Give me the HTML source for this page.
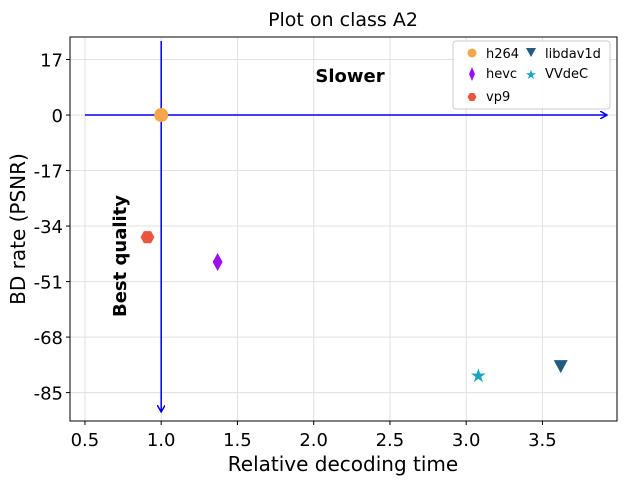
<!DOCTYPE html>
<html><head><meta charset="utf-8"><style>
body{margin:0;background:#fff;font-family:"DejaVu Sans","Liberation Sans",sans-serif}
</style></head><body>
<svg id="chart" width="626" height="484" xmlns="http://www.w3.org/2000/svg" font-family="DejaVu Sans, Liberation Sans, sans-serif">
<defs>
<marker id="ah" markerWidth="8" markerHeight="8" refX="7" refY="4" orient="auto" markerUnits="userSpaceOnUse"><path d="M0,0 L7,4 L0,8" fill="none" stroke="#0000ee" stroke-width="1.5"/></marker>
</defs>
<g id="grid"></g>
<g id="marks"></g>
<rect x="70" y="37" width="547" height="384" fill="none" stroke="#000" stroke-width="1"/>
<g id="ticks"></g>
<text x="343" y="26" font-size="19" text-anchor="middle">Plot on class A2</text>
<text x="343" y="471" font-size="20" text-anchor="middle">Relative decoding time</text>
<text transform="translate(25,229) rotate(-90)" font-size="20" text-anchor="middle">BD rate (PSNR)</text>
<text x="350" y="82" font-size="18" font-weight="bold" text-anchor="middle">Slower</text>
<text transform="translate(126,256) rotate(-90)" font-size="18" font-weight="bold" text-anchor="middle">Best quality</text>
<g>
<rect x="453" y="41" width="157" height="68" rx="3" fill="#fff" fill-opacity="0.85" stroke="#ccc"/>
<circle cx="472" cy="53" r="4.5" fill="#f4a74a"/><text x="486" y="58" font-size="13">h264</text>
<path d="M472,67 L475,74 L472,81 L469,74Z" fill="#9b10ee"/><text x="486" y="78" font-size="13">hevc</text>
<path d="M476.5,97 L474.2,101 L469.8,101 L467.5,97 L469.8,93 L474.2,93Z" fill="#e8563f"/><text x="486" y="101" font-size="13">vp9</text>
<path d="M526,48 L536,48 L531,57Z" fill="#235a80"/><text x="545" y="58" font-size="13">libdav1d</text>
<text x="531" y="79" font-size="13" fill="#17a8c0" text-anchor="middle">★</text><text x="545" y="78" font-size="13">VVdeC</text>
</g>
</svg>
<script>
const categories=["h264","hevc","vp9","libdav1d","VVdeC"];
const timeValues=[1.0,1.37,0.91,3.62,3.08];
const bdValues=[0,-45,-37.4,-76.9,-79.6];
const xTicks=[0.5,1.0,1.5,2.0,2.5,3.0,3.5];
const yTicks=[17,0,-17,-34,-51,-68,-85];
const colors=["#f4a74a","#9b10ee","#e8563f","#235a80","#17a8c0"];
const X0=70,X1=617,Y0=37,Y1=421,xmin=0.402,xmax=3.989,ymin=-93.7,ymax=23.9;
const sx=v=>X0+(v-xmin)/(xmax-xmin)*(X1-X0);
const sy=v=>Y1-(v-ymin)/(ymax-ymin)*(Y1-Y0);
const NS="http://www.w3.org/2000/svg";
function mk(t,a,p){const e=document.createElementNS(NS,t);for(const k in a)e.setAttribute(k,a[k]);p.appendChild(e);return e;}
const grid=document.getElementById('grid'),ticks=document.getElementById('ticks'),marks=document.getElementById('marks');
xTicks.forEach(v=>{const x=sx(v);
const g=mk('line',{x1:x,x2:x,y1:Y0,y2:Y1,stroke:'#e0e0e0','stroke-width':1},grid);

mk('line',{x1:x,x2:x,y1:Y1,y2:Y1+4,stroke:'#000'},ticks);
const t=mk('text',{x:x,y:Y1+25,'font-size':18,'text-anchor':'middle'},ticks);t.textContent=v.toFixed(1);
});
yTicks.forEach(v=>{const y=sy(v);
const g=mk('line',{x1:X0,x2:X1,y1:y,y2:y,stroke:'#e0e0e0','stroke-width':1},grid);

mk('line',{x1:X0-4,x2:X0,y1:y,y2:y,stroke:'#000'},ticks);
const t=mk('text',{x:X0-7,y:y+7,'font-size':18,'text-anchor':'end'},ticks);t.textContent=v;
});
const ha=mk('line',{x1:sx(0.5),x2:607,y1:sy(0),y2:sy(0),stroke:'#0000ee','stroke-width':1.5,'marker-end':'url(#ah)'},marks);

const va=mk('line',{x1:sx(1),x2:sx(1),y1:41,y2:412,stroke:'#0000ee','stroke-width':1.5,'marker-end':'url(#ah)'},marks);

categories.forEach((c,i)=>{const x=sx(timeValues[i]),y=sy(bdValues[i]);let e;
if(i===0){e=mk('circle',{cx:x,cy:y,r:7,fill:colors[i]},marks);}
else if(i===2){let d='';for(let k=0;k<6;k++){const a=Math.PI/3*k;d+=(k?'L':'M')+(x+7*Math.cos(a))+','+(y+7*Math.sin(a));}e=mk('path',{d:d+'Z',fill:colors[i]},marks);}
else if(i===1){e=mk('path',{d:`M${x},${y-9}L${x+5},${y}L${x},${y+9}L${x-5},${y}Z`,fill:colors[i]},marks);}
else if(i===3){e=mk('path',{d:`M${x-7},${y-6}L${x+7},${y-6}L${x},${y+7}Z`,fill:colors[i]},marks);}
else{e=mk('text',{x:x,y:y+7,'font-size':19,'text-anchor':'middle',fill:colors[i]},marks);e.textContent='★';}

});
</script>
</body></html>
